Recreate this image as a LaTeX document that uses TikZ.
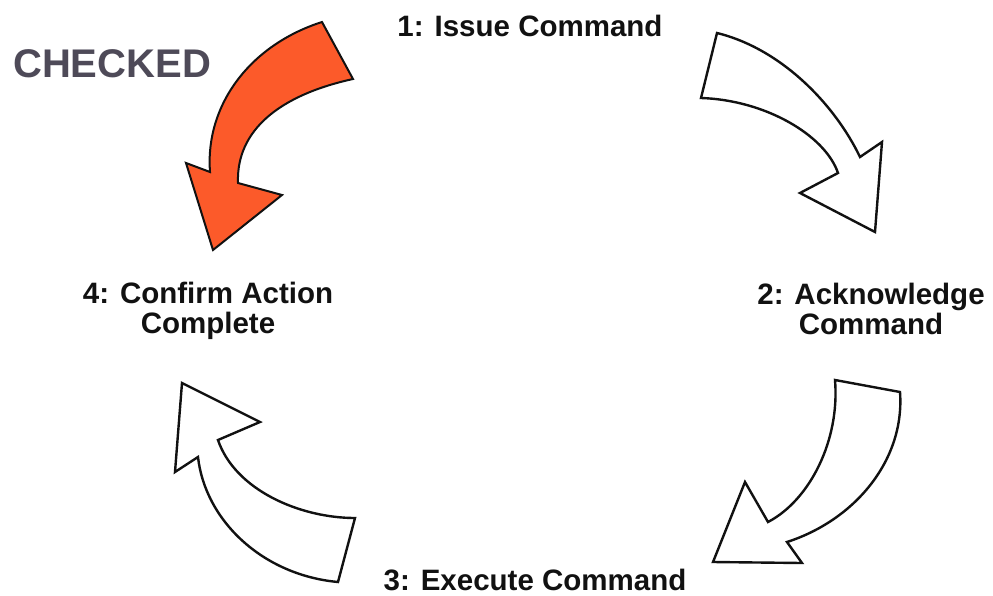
\documentclass[tikz,border=0pt]{standalone}
\usepackage{fontspec}
\setmainfont{Liberation Sans}
\usetikzlibrary{positioning}
\definecolor{ink}{HTML}{111111}
\definecolor{hot}{HTML}{FC5A2A}
\definecolor{stamp}{HTML}{4E4A58}

\begin{document}
\begin{tikzpicture}[
  x=1pt, y=-1pt,
  stagelbl/.style={font=\fontsize{29.5}{30}\selectfont\bfseries, text=ink,
                   align=center, inner sep=0pt},
  turn/.style={draw=ink, line width=2.4pt, line join=miter, fill=white},
  hotturn/.style={turn, line width=2pt, fill=hot}
]
\useasboundingbox (0,0) rectangle (993,595);

% the four stages round the loop
\node[stagelbl, anchor=base] (issue) at (530,36) {1: Issue Command};
\node[stagelbl, anchor=north] (ack) at (871,283) {2: Acknowledge\\ Command};
\node[stagelbl, anchor=base] (execute) at (535,590) {3: Execute Command};
\node[stagelbl, anchor=north] (confirm) at (208,282) {4: Confirm Action\\ Complete};

\node[font=\fontsize{40}{40}\selectfont\bfseries, text=stamp, inner sep=0pt,
      anchor=base west] (checked) at (13,77) {CHECKED};

% curved block arrows between the stages
\draw[hotturn] (322,22) .. controls (250,45) and (205,105) .. (210,172)
  -- (186,163) -- (213,250) -- (282,195) -- (238,183)
  .. controls (236,130) and (280,95) .. (353,79) -- cycle;
\draw[turn] (717,33) .. controls (782,49) and (835,105) .. (860,157)
  -- (882,142) -- (875,232) -- (800,193) -- (838,173)
  .. controls (825,135) and (765,100) .. (701,98) -- cycle;
\draw[turn] (900,392) .. controls (905,460) and (855,520) .. (787,542)
  -- (802,563) -- (713,562) -- (745,482) -- (768,522)
  .. controls (810,500) and (840,440) .. (835,380) -- cycle;
\draw[turn] (338,582) .. controls (262,575) and (205,520) .. (198,457)
  -- (175,472) -- (182,383) -- (260,422) -- (218,440)
  .. controls (235,490) and (300,518) .. (355,518) -- cycle;
\end{tikzpicture}
\end{document}
